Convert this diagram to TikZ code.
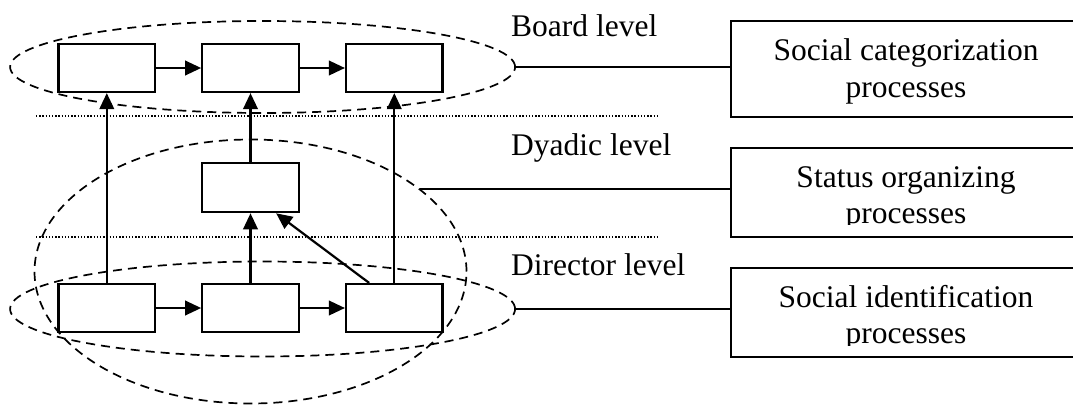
\documentclass[tikz,border=0pt]{standalone}
\usepackage{fontspec}
\setmainfont{Liberation Serif}
\usetikzlibrary{shapes.geometric,arrows.meta,calc}
\tikzset{
  unitbox/.style={draw,fill=white,line width=2.2pt,minimum width=96.5pt,minimum height=48pt,inner sep=0pt},
  procbox/.style={draw,line width=2.2pt,inner sep=0pt,anchor=north west,minimum width=420pt},
  arr/.style={line width=2.2pt,-{Triangle[length=16pt,width=14.5pt]}},
  levelring/.style={draw,dash pattern=on 9pt off 6pt,line width=1.7pt,ellipse,inner sep=0pt},
  divider/.style={line width=1.5pt,dash pattern=on 1.4pt off 1.8pt},
  link/.style={line width=1.9pt},
  lbl/.style={font=\fontsize{31.5}{38}\selectfont,inner sep=0pt},
}
\begin{document}
\begin{tikzpicture}[x=1pt,y=-1pt]
\clip (0,0) rectangle (1073,405);
\fill[white] (0,0) rectangle (1073,405);

% level rings
\node[levelring,minimum width=505pt,minimum height=92pt] (ringB) at (262.6,67) {};
\node[levelring,minimum width=432pt,minimum height=264pt] (ringY) at (250.5,271.5) {};
\node[levelring,minimum width=505pt,minimum height=95pt] (ringD) at (262.6,309) {};

% level dividers
\coordinate (dv1a) at (36,116); \coordinate (dv1b) at (657,116);
\coordinate (dv2a) at (36,237); \coordinate (dv2b) at (657,237);
\draw[divider] (dv1a) -- (dv1b);
\draw[divider] (dv2a) -- (dv2b);

% board level
\node[unitbox] (t1) at (106.8,68) {};
\node[unitbox] (t2) at (250.5,68) {};
\node[unitbox] (t3) at (394.3,68) {};
% dyadic level
\node[unitbox,minimum height=49pt] (m2) at (250.5,187.7) {};
% director level
\node[unitbox] (d1) at (106.8,308) {};
\node[unitbox] (d2) at (250.5,308) {};
\node[unitbox] (d3) at (394.3,308) {};

\draw[arr] (t1) -- (t2);
\draw[arr] (t2) -- (t3);
\draw[arr] (d1) -- (d2);
\draw[arr] (d2) -- (d3);
\draw[arr] (d1.north) -- (t1.south);
\draw[arr] (d3.north) -- (t3.south);
\draw[arr] (d2.north) -- (m2.south);
\draw[arr] (m2.north) -- (t2.south);
\draw[arr] ($(d3.north west)!0.245!(d3.north east)$) -- ($(m2.south west)!0.76!(m2.south east)$);

% level labels
\node[lbl,anchor=base west] (lb) at (511,36) {Board level};
\node[lbl,anchor=base west] (ly) at (511,155) {Dyadic level};
\node[lbl,anchor=base west] (ld) at (511,275) {Director level};

% process boxes
\node[procbox,minimum height=96pt] (pc) at (730,20) {};
\node[procbox,minimum height=89pt] (ps) at (730,147) {};
\node[procbox,minimum height=89pt] (pi) at (730,267) {};

\draw[link] (ringB.east) -- (ringB.east -| pc.west);
\draw[link] (ringY.26) -- (ringY.26 -| ps.west);
\draw[link] (ringD.east) -- (ringD.east -| pi.west);

\node[lbl,anchor=base] (pc1) at (906,60) {Social categorization};
\node[lbl,anchor=base] (pc2) at (906,97) {processes};
\node[lbl,anchor=base] (ps1) at (906,187) {Status organizing};
\begin{scope}
  \clip (732,200) rectangle (1073,224.5);
  \node[lbl,anchor=base] (ps2) at (906,223) {processes};
\end{scope}
\node[lbl,anchor=base] (pi1) at (906,307) {Social identification};
\begin{scope}
  \clip (732,320) rectangle (1073,345);
  \node[lbl,anchor=base] (pi2) at (906,343) {processes};
\end{scope}
\end{tikzpicture}
\end{document}
